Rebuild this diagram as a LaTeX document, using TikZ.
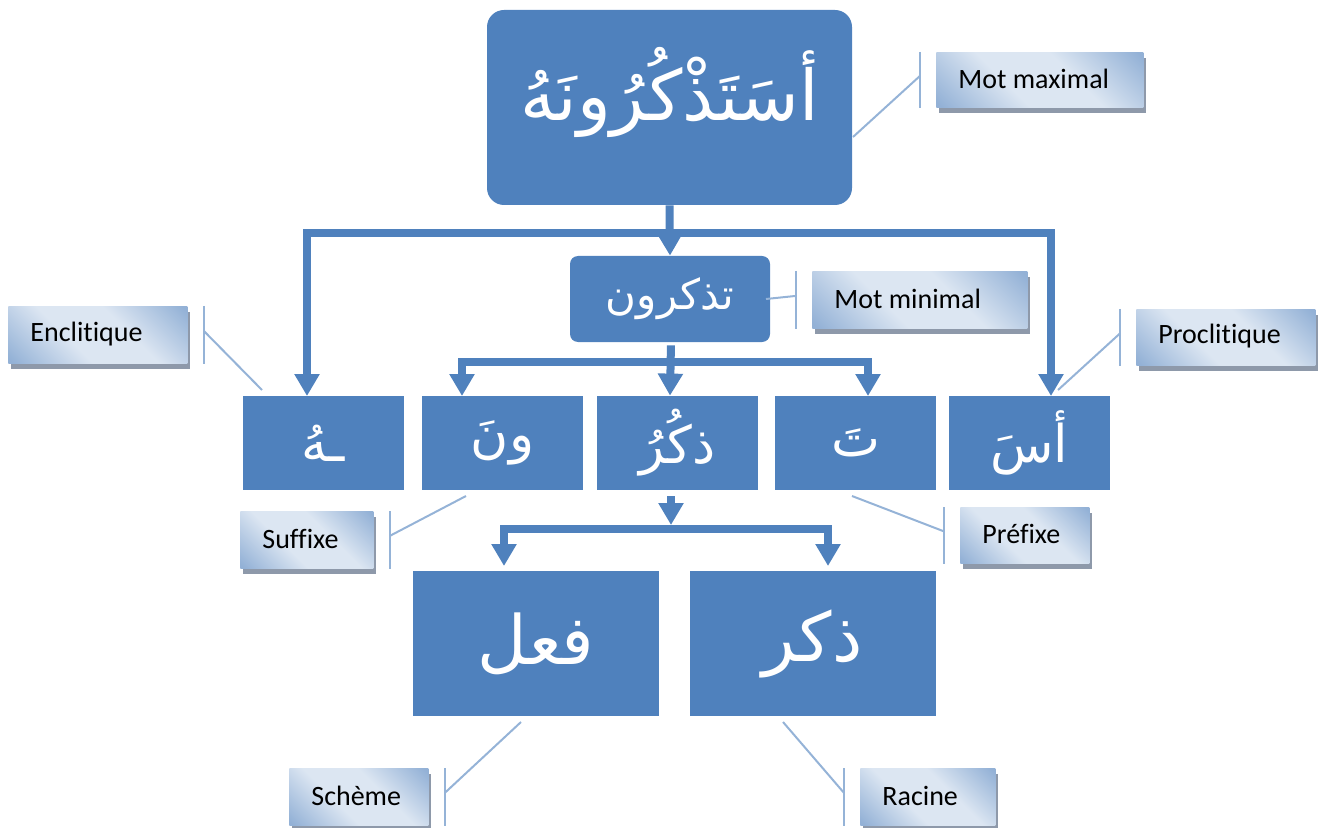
\documentclass[tikz,border=0pt]{standalone}
\usepackage{fontspec}
\setmainfont{Carlito}[Ligatures=CommonOff]
\newfontfamily\arabicfont[Script=Arabic]{DejaVu Sans}
\TeXXeTstate=1
\usetikzlibrary{arrows.meta,shadows}

\definecolor{boxblue}{HTML}{4F81BD}
\definecolor{leadblue}{HTML}{95B3D7}
\definecolor{calldark}{HTML}{93B1D6}
\definecolor{calllight}{HTML}{DCE6F2}
\definecolor{callshadow}{HTML}{8E99AA}

% diagonal band: darker corners, light stripe through the middle
\pgfdeclareverticalshading{calloutband}{100bp}{%
  color(0bp)=(calldark); color(16bp)=(calldark); color(40bp)=(calllight);
  color(60bp)=(calllight); color(84bp)=(calldark); color(100bp)=(calldark)}

% right-to-left Arabic run
\newcommand{\artext}[1]{{\arabicfont\beginR #1\endR}}

\tikzset{
  wordbox/.style={fill=boxblue, draw=none, inner sep=0pt, text=white},
  bigword/.style={font=\fontsize{35}{40}\selectfont},
  midword/.style={font=\fontsize{21}{25}\selectfont},
  rowword/.style={font=\fontsize{26}{30}\selectfont},
  lowword/.style={font=\fontsize{34}{40}\selectfont},
  rowbox/.style={wordbox, rowword, minimum width=80.5pt, minimum height=47pt},
  lowbox/.style={wordbox, lowword, minimum width=123pt, minimum height=72.5pt},
  conn/.style={draw=boxblue, line width=4pt, line join=miter},
  tip/.tip={Triangle[width=12pt,length=11pt]},
  callbox/.style={anchor=north west, inner sep=0pt, draw=none,
    shading=calloutband, shading angle=-45,
    drop shadow={shadow xshift=1.5pt, shadow yshift=-3pt, fill=callshadow, opacity=1}},
  calltext/.style={anchor=west, xshift=11pt, yshift=0.5pt, inner sep=0pt, text=black,
    font=\fontsize{14}{16}\selectfont},
  lead/.style={draw=leadblue, line width=1pt},
}

\begin{document}
\begin{tikzpicture}[x=0.5pt,y=-0.5pt]
\useasboundingbox (0,0) rectangle (1320,828);

% word boxes
\node[wordbox, rounded corners=8.5pt, minimum width=182.5pt, minimum height=97.5pt]
  (full) at (669.5,107.5) {};
\node[text=white, bigword, inner sep=0pt] (fullword) at (669.5,92) {\artext{أسَتَذْكُرُونَهُ}};
\node[wordbox, midword, rounded corners=4pt, minimum width=100pt, minimum height=43pt]
  (min) at (670,299) {\artext{تذكرون}};
\node[rowbox] (encl)  at (323.5,443) {\artext{ـهُ}};
\node[rowbox] (suff)  at (502.5,443) {\artext{ونَ}};
\node[rowbox] (stem)  at (677.5,443) {\artext{ذكُرُ}};
\node[rowbox] (pref)  at (855.5,443) {\artext{تَ}};
\node[rowbox] (procl) at (1029,443)  {\artext{أسَ}};
\node[lowbox] (pattern) at (536,643.5)   {\artext{فعل}};
\node[lowbox] (root)    at (812.5,643.5) {\artext{ذكر}};

% junctions and arrow targets
\coordinate (j1) at (669.5,233);
\coordinate (tA) at (307,396);
\coordinate (tE) at (1051,396);
\coordinate (j2) at (671,362);
\coordinate (tB) at (462,396);
\coordinate (tD) at (868,396);
\coordinate (j3) at (671,529);
\coordinate (tF) at (504,566);
\coordinate (tG) at (828,566);

% connectors
\draw[conn, -tip] (full.south) -- (min.north);
\draw[conn, tip-tip] (tA) |- (j1) -| (tE);
\draw[conn, -tip, shorten <=1.5pt] (min.south -| j2) -- (min.south |- stem.north);
\draw[conn, tip-tip] (tB) |- (j2) -| (tD);
\draw[conn, -tip, shorten <=3pt, shorten >=2pt] (stem.south -| j3) -- (j3);
\draw[conn, tip-tip] (tF) |- (j3) -| (tG);

% callouts
\node[callbox, minimum width=103.5pt, minimum height=27.5pt, label={[calltext]west:Mot maximal}] (cmax) at (936,52) {};
\node[callbox, minimum width=107.5pt, minimum height=28.5pt, label={[calltext]west:Mot minimal}] (cmin) at (812,271) {};
\node[callbox, minimum width=89.5pt,  minimum height=28.5pt, label={[calltext]west:Enclitique}] (cenc) at (8,306) {};
\node[callbox, minimum width=89.5pt,  minimum height=28pt,   label={[calltext]west:Proclitique}] (cpro) at (1136,309) {};
\node[callbox, minimum width=66.5pt,  minimum height=28.5pt, label={[calltext]west:Suffixe}] (csuf) at (240,511) {};
\node[callbox, minimum width=64.5pt,  minimum height=28pt,   label={[calltext]west:Préfixe}] (cpre) at (960,507) {};
\node[callbox, minimum width=69.5pt,  minimum height=28.5pt, label={[calltext]west:Schème}] (csch) at (289,768) {};
\node[callbox, minimum width=67.5pt,  minimum height=28.5pt, label={[calltext]west:Racine}] (crac) at (860,768) {};

% leader ends
\coordinate (lmax) at (853,137);
\coordinate (lmin) at (766,299);
\coordinate (lenc) at (262,390);
\coordinate (lpro) at (1058,390);
\coordinate (lsuf) at (466,496);
\coordinate (lpre) at (852,496);
\coordinate (lsch) at (521,722);
\coordinate (lrac) at (783,722);

% brackets on the left side of a callout
\foreach \c/\e in {cmax/lmax, cmin/lmin, cpro/lpro, cpre/lpre, crac/lrac}{
  \draw[lead] ([xshift=-8pt]\c.north west) -- ([xshift=-8pt]\c.south west);
  \draw[lead] ([xshift=-8pt,yshift=2pt]\c.west) -- (\e);
}
% brackets on the right side of a callout
\foreach \c/\e in {cenc/lenc, csuf/lsuf, csch/lsch}{
  \draw[lead] ([xshift=8pt]\c.north east) -- ([xshift=8pt]\c.south east);
  \draw[lead] ([xshift=8pt,yshift=2pt]\c.east) -- (\e);
}
\end{tikzpicture}
\end{document}
